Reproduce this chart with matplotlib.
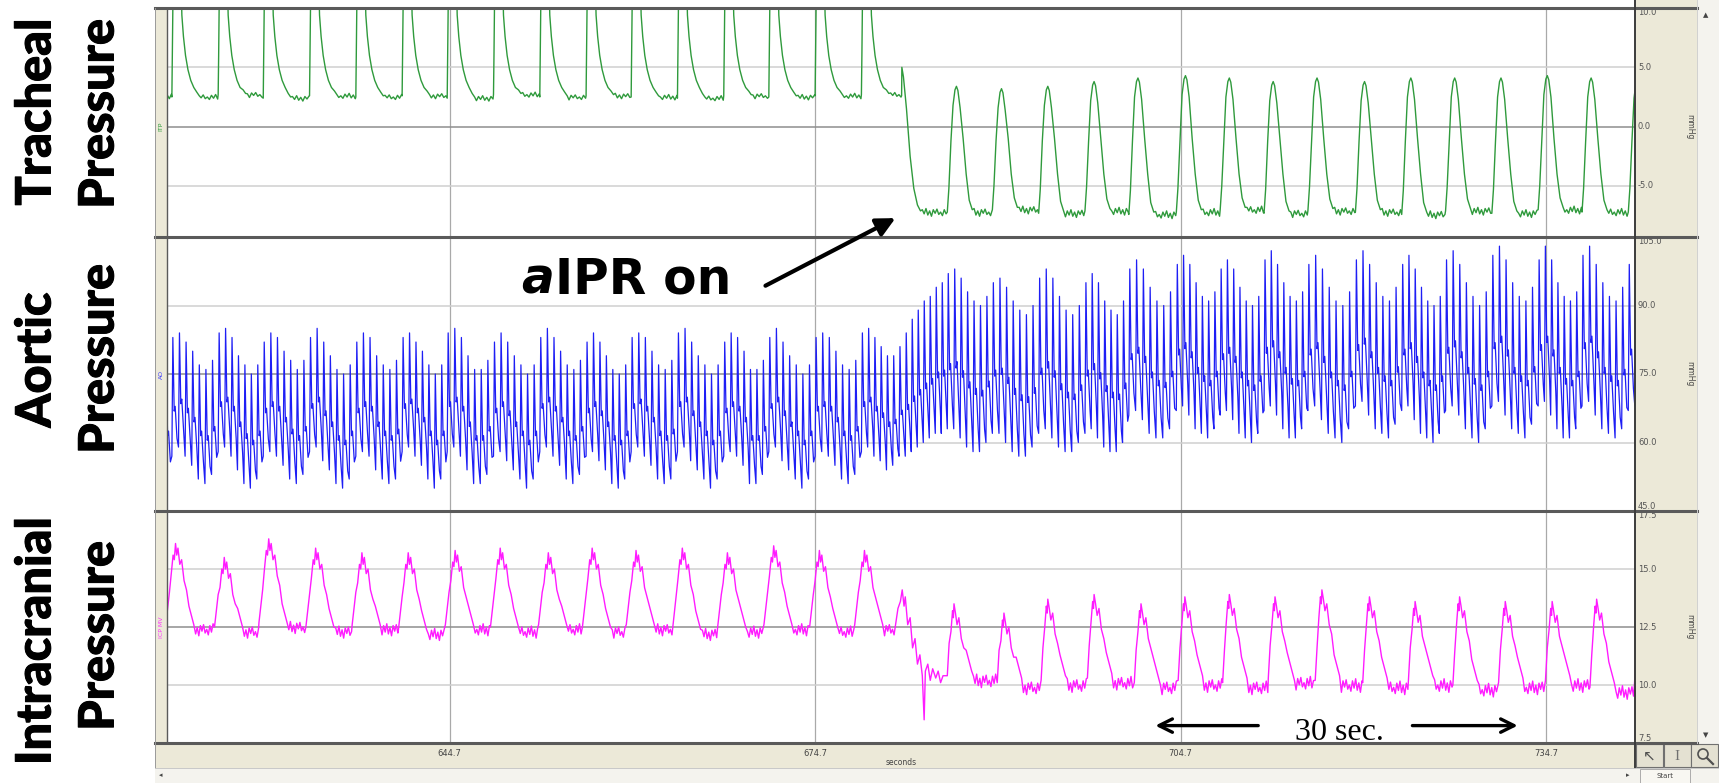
import matplotlib
matplotlib.use("Agg")
import matplotlib.pyplot as plt
import matplotlib.patheffects as pe
from matplotlib.patches import Rectangle, Circle
from matplotlib.lines import Line2D

W, H, DPI = 1719, 783, 100

# ------------------------------------------------------------------ data
x_range = (621.5, 742.0)
x_ticks = [644.7, 674.7, 704.7, 734.7]
x_tick_labels = ["644.7", "674.7", "704.7", "734.7"]

trach_range = (-9.3, 10.0)
trach_ticks = [10.0, 5.0, 0.0, -5.0]
trach_tick_labels = ["10.0", "5.0", "0.0", "-5.0"]

aortic_range = (45.0, 105.0)
aortic_ticks = [105.0, 90.0, 75.0, 60.0, 45.0]
aortic_tick_labels = ["105.0", "90.0", "75.0", "60.0", "45.0"]

icp_range = (7.5, 17.5)
icp_ticks = [17.5, 15.0, 12.5, 10.0, 7.5]
icp_tick_labels = ["17.5", "15.0", "12.5", "10.0", "7.5"]

# tracheal pressure: ventilator breaths before aIPR (peaks run off scale)
trach_pre_onset = [618.1, 621.9, 625.7, 629.4, 633.2, 637.0, 640.8, 644.5, 648.3,
                   652.1, 655.9, 659.6, 663.4, 667.2, 670.9, 674.7, 678.5]
trach_pre_base = [2.6, 2.5, 2.7, 2.4, 2.6, 2.5, 2.6, 2.4, 2.7,
                  2.5, 2.6, 2.5, 2.4, 2.6, 2.5, 2.6, 2.7]
trach_pre_peak = 14.0
# aIPR switched on
trach_trans_t = [681.8, 681.82, 681.95, 682.2, 682.5, 682.8, 683.1, 683.35]
trach_trans_v = [2.6, 5.0, 4.2, 1.5, -2.5, -5.2, -6.6, -7.1]
# breaths with aIPR on
trach_post_peak_t = [686.3, 690.0, 693.8, 697.6, 701.2, 705.1, 708.7, 712.3,
                     715.9, 719.8, 723.6, 727.2, 731.0, 734.8, 738.4, 742.2]
trach_post_peak = [3.4, 3.2, 3.4, 3.8, 4.1, 4.3, 4.1, 3.8,
                   4.1, 3.8, 4.1, 4.1, 4.1, 4.3, 4.1, 4.0]
trach_post_base = [-7.2, -7.0, -7.3, -7.1, -7.4, -7.2, -7.0, -7.3,
                   -7.1, -7.2, -7.4, -7.1, -7.3, -7.0, -7.2, -7.2]

# aortic pressure: 7 beats per respiratory cycle, systolic / diastolic per beat
aortic_breath_onset = [618.1, 621.9, 625.7, 629.4, 633.2, 637.0, 640.8, 644.5, 648.3,
                       652.1, 655.9, 659.6, 663.4, 667.2, 670.9, 674.7, 678.5, 682.1,
                       685.55, 689.25, 693.05, 696.85, 700.45, 704.35, 707.95, 711.55,
                       715.15, 719.05, 722.85, 726.45, 730.25, 734.05, 737.65, 741.45,
                       745.2]
aortic_sys = [
    [81, 83, 82, 79, 77, 76, 77], [83, 84, 82, 80, 77, 76, 78],
    [84, 85, 83, 79, 77, 75, 77], [82, 84, 83, 80, 78, 76, 78],
    [83, 85, 82, 79, 76, 75, 77], [82, 84, 83, 79, 77, 76, 78],
    [83, 84, 82, 80, 77, 75, 77], [84, 85, 83, 79, 76, 76, 78],
    [82, 84, 82, 79, 77, 75, 77], [83, 85, 83, 80, 77, 76, 78],
    [82, 84, 82, 79, 76, 75, 77], [83, 84, 83, 80, 77, 76, 78],
    [84, 85, 82, 79, 77, 75, 77], [82, 84, 83, 80, 76, 76, 78],
    [83, 85, 82, 79, 77, 75, 77], [83, 84, 83, 80, 77, 76, 78],
    [84, 85, 83, 81, 79, 79, 81], [84, 87, 89, 91, 92, 94, 95],
    [97, 98, 96, 93, 91, 90, 92], [95, 96, 94, 91, 89, 88, 90],
    [96, 98, 96, 92, 89, 88, 90], [95, 97, 95, 91, 89, 88, 91],
    [98, 100, 98, 94, 91, 90, 93], [99, 101, 99, 95, 92, 91, 93],
    [98, 100, 98, 94, 91, 90, 92], [100, 102, 99, 95, 92, 91, 93],
    [99, 101, 98, 94, 91, 90, 93], [100, 102, 99, 95, 92, 91, 94],
    [99, 101, 98, 94, 91, 90, 92], [100, 102, 99, 95, 92, 90, 93],
    [101, 103, 100, 95, 92, 91, 94], [100, 103, 100, 95, 92, 91, 93],
    [101, 103, 99, 95, 92, 91, 94], [99, 100, 98, 94, 92, 91, 93],
]
aortic_dia = [
    [56, 58, 57, 54, 52, 51, 52], [57, 59, 57, 55, 52, 51, 53],
    [58, 59, 57, 54, 51, 50, 52], [57, 58, 57, 55, 52, 51, 53],
    [58, 59, 56, 54, 51, 50, 52], [57, 58, 57, 54, 52, 51, 52],
    [58, 59, 57, 55, 52, 50, 52], [58, 59, 57, 54, 51, 51, 53],
    [57, 58, 56, 54, 52, 50, 52], [58, 59, 57, 55, 52, 51, 53],
    [57, 58, 56, 54, 51, 50, 52], [58, 59, 57, 55, 52, 51, 52],
    [58, 59, 56, 54, 52, 50, 52], [57, 58, 57, 55, 51, 51, 53],
    [58, 59, 56, 54, 52, 50, 52], [57, 58, 57, 55, 52, 51, 53],
    [58, 59, 57, 56, 54, 55, 57], [57, 58, 59, 60, 61, 62, 62],
    [63, 63, 61, 59, 58, 58, 60], [62, 62, 60, 58, 57, 57, 59],
    [62, 63, 61, 59, 58, 58, 60], [62, 63, 61, 59, 58, 58, 60],
    [66, 67, 65, 62, 61, 61, 63], [67, 68, 66, 63, 62, 61, 63],
    [66, 67, 65, 62, 61, 60, 62], [67, 68, 66, 63, 61, 61, 63],
    [67, 68, 65, 62, 61, 60, 63], [68, 69, 66, 63, 62, 61, 64],
    [67, 68, 65, 62, 61, 60, 62], [67, 68, 66, 63, 61, 60, 63],
    [68, 69, 66, 63, 62, 61, 64], [68, 69, 66, 63, 61, 61, 63],
    [68, 69, 66, 63, 62, 61, 63], [67, 68, 66, 63, 62, 61, 63],
]

# intracranial pressure
icp_pre_peak_t = [622.2, 626.2, 629.85, 633.7, 637.5, 641.3, 645.15, 648.85,
                  652.8, 656.4, 660.0, 663.8, 667.5, 671.3, 675.05, 678.75]
icp_pre_peak = [16.1, 15.5, 16.3, 15.9, 15.7, 15.7, 15.8, 15.9,
                15.7, 15.9, 15.8, 15.9, 15.7, 16.0, 15.8, 15.8]
icp_pre_base = [12.4, 12.3, 12.5, 12.3, 12.4, 12.2, 12.4, 12.3,
                12.4, 12.3, 12.4, 12.2, 12.3, 12.4, 12.3, 12.4]
icp_trans_t = [681.3, 681.5, 681.7, 681.85, 682.0, 682.1, 682.3, 682.5, 682.7, 682.9,
               683.1, 683.3, 683.5, 683.65, 683.75, 683.95, 684.15, 684.35, 684.6,
               684.8, 685.0, 685.2]
icp_trans_v = [12.6, 13.3, 13.6, 14.1, 13.4, 13.8, 12.6, 12.9, 11.6, 12.0,
               10.9, 11.3, 10.4, 8.5, 10.6, 10.9, 10.2, 10.7, 10.3,
               10.6, 10.1, 10.4]
icp_post_peak_t = [686.1, 690.2, 693.8, 697.6, 701.45, 705.05, 708.7, 712.45,
                   716.3, 720.2, 723.95, 727.6, 731.35, 735.2, 738.85, 742.5]
icp_post_peak = [13.5, 13.1, 13.7, 13.9, 13.5, 13.8, 13.9, 13.8,
                 14.1, 13.8, 13.6, 13.8, 13.6, 13.6, 13.7, 13.6]
icp_post_base = [10.2, 9.9, 10.0, 10.1, 9.9, 10.0, 9.9, 10.1,
                 10.0, 9.9, 10.0, 9.8, 9.9, 10.0, 9.7, 9.8]

ripple = [0.0, -0.3, 0.2, -0.15, 0.3, -0.25, 0.1, -0.35, 0.2, -0.1, 0.25, -0.2]

# ------------------------------------------------------------ build traces
def ripple_fill(T, V, t0, t1, base, amp, step, cnt):
    tt = t0
    while tt < t1:
        T.append(tt)
        V.append(base + amp * ripple[cnt[0] % len(ripple)])
        cnt[0] += 1
        tt += step


def tracheal_trace():
    T, V, c = [], [], [0]
    n = len(trach_pre_onset)
    for k in range(n):
        to, b = trach_pre_onset[k], trach_pre_base[k]
        nxt = trach_pre_onset[k + 1] if k + 1 < n else trach_trans_t[0]
        shape = [(0.0, b), (0.04, 6.0), (0.12, trach_pre_peak), (0.72, trach_pre_peak),
                 (0.82, 9.4), (0.95, 7.6), (1.12, 6.0), (1.32, 4.8), (1.55, 3.9),
                 (1.8, 3.3), (2.05, b + 0.4), (2.25, b + 0.1)]
        for dt, val in shape:
            T.append(to + dt); V.append(val)
        ripple_fill(T, V, to + 2.4, nxt - 0.02, b, 0.7, 0.17, c)
    T += trach_trans_t; V += trach_trans_v
    ripple_fill(T, V, trach_trans_t[-1] + 0.15, trach_post_peak_t[0] - 0.78,
                trach_post_base[0], 1.0, 0.15, c)
    m = len(trach_post_peak_t)
    for k in range(m):
        tp, pk, b = trach_post_peak_t[k], trach_post_peak[k], trach_post_base[k]
        shape = [(-0.75, b), (-0.62, b + 2.0), (-0.45, -1.2), (-0.28, pk - 1.6),
                 (-0.12, pk - 0.3), (0.0, pk), (0.12, pk - 0.35), (0.3, pk - 1.8),
                 (0.55, -1.0), (0.8, -4.0), (1.05, b + 1.0), (1.3, b + 0.2)]
        for dt, val in shape:
            T.append(tp + dt); V.append(val)
        if k + 1 < m:
            ripple_fill(T, V, tp + 1.45, trach_post_peak_t[k + 1] - 0.78, b, 1.0, 0.15, c)
    return T, V


def aortic_trace():
    T, V = [], []
    for k in range(len(aortic_sys)):
        t0, t1 = aortic_breath_onset[k], aortic_breath_onset[k + 1]
        n = len(aortic_sys[k])
        dt = (t1 - t0) / n
        for j in range(n):
            tb = t0 + j * dt
            s, d = aortic_sys[k][j], aortic_dia[k][j]
            T += [tb, tb + 0.08, tb + 0.19, tb + 0.27, tb + 0.42]
            V += [d, s, d + 0.38 * (s - d), d + 0.42 * (s - d), d + 0.15 * (s - d)]
    return T, V


def icp_trace():
    T, V, c = [], [], [5]
    n = len(icp_pre_peak_t)
    for k in range(n):
        tp, pk, b = icp_pre_peak_t[k], icp_pre_peak[k], icp_pre_base[k]
        shape = [(-0.8, b + 0.2), (-0.65, b + 0.9), (-0.5, b + 1.6), (-0.35, pk - 1.3),
                 (-0.2, pk - 0.5), (-0.1, pk - 0.7), (0.0, pk), (0.1, pk - 0.5),
                 (0.2, pk - 0.2), (0.35, pk - 0.9), (0.5, pk - 0.7), (0.7, pk - 1.6),
                 (0.9, pk - 2.0), (1.1, b + 1.0), (1.3, b + 0.6), (1.5, b + 0.2)]
        for dt, val in shape:
            T.append(tp + dt); V.append(val)
        nxt = icp_pre_peak_t[k + 1] - 0.82 if k + 1 < n else icp_trans_t[0] - 0.05
        ripple_fill(T, V, tp + 1.65, nxt, b, 0.8, 0.13, c)
    T += icp_trans_t; V += icp_trans_v
    m = len(icp_post_peak_t)
    for k in range(m):
        tp, pk, b = icp_post_peak_t[k], icp_post_peak[k], icp_post_base[k]
        shape = [(-0.55, b + 0.2), (-0.4, b + 1.6), (-0.25, pk - 1.2), (-0.12, pk - 0.3),
                 (-0.05, pk - 0.6), (0.0, pk), (0.12, pk - 0.4), (0.25, pk - 0.9),
                 (0.4, pk - 0.6), (0.6, pk - 1.5), (0.8, pk - 1.9), (1.0, b + 1.3),
                 (1.2, b + 0.9), (1.45, b + 0.4)]
        for dt, val in shape:
            T.append(tp + dt); V.append(val)
        if k + 1 < m:
            ripple_fill(T, V, tp + 1.6, icp_post_peak_t[k + 1] - 0.57, b, 0.9, 0.13, c)
    return T, V

# ---------------------------------------------------------------- figure
BEIGE = "#ECE9D8"
LIGHT = "#F4F3EE"
fig = plt.figure(figsize=(W / DPI, H / DPI), dpi=DPI)
fig.patch.set_facecolor("white")

def px_rect(l, t, r, b):
    return [l / W, 1 - b / H, (r - l) / W, (b - t) / H]

bg = fig.add_axes([0, 0, 1, 1], zorder=0)
bg.set_xlim(0, W); bg.set_ylim(H, 0); bg.axis("off")
for (l, t, r, b, col) in [(155, 8, 167, 768, BEIGE), (155, 743, 1635, 768, BEIGE),
                          (155, 768, 1719, 783, LIGHT), (1635, 0, 1697, 768, BEIGE),
                          (1697, 0, 1719, 783, LIGHT)]:
    bg.add_patch(Rectangle((l, t), r - l, b - t, facecolor=col, edgecolor="none"))

PL, PR = 167, 1635
panel_px = [(8, 237), (237, 511), (511, 743)]
axes = []
for (t, b) in panel_px:
    ax = fig.add_axes(px_rect(PL, t, PR, b), zorder=2)
    ax.set_facecolor("white")
    for s in ax.spines.values():
        s.set_visible(False)
    ax.set_xlim(*x_range)
    ax.tick_params(left=False, labelleft=False, bottom=False, labelbottom=False)
    for xt in x_ticks:
        ax.axvline(xt, color="#a9a9a9", lw=0.9, zorder=0)
    axes.append(ax)
ax1, ax2, ax3 = axes

specs = [
    (ax1, trach_range, trach_ticks, trach_tick_labels, 0.0, "ITP", "#2e9b3c"),
    (ax2, aortic_range, aortic_ticks, aortic_tick_labels, 75.0, "AO", "#3a3aff"),
    (ax3, icp_range, icp_ticks, icp_tick_labels, 12.5, "ICP MV", "#ff33ff"),
]
for ax, rng, ticks, labels, mid, chan, ccol in specs:
    ax.set_ylim(*rng)
    tr = ax.get_yaxis_transform()
    for val, lab in zip(ticks, labels):
        if rng[0] < val < rng[1]:
            ax.axhline(val, color="#8e8e8e" if val == mid else "#cfcfcf",
                       lw=1.1, zorder=0)
        if val >= rng[1]:
            va, yy = "top", rng[1]
        elif val <= rng[0]:
            va, yy = "bottom", rng[0]
        else:
            va, yy = "center", val
        ax.text(1.002, yy, lab, transform=tr, fontsize=6, color="#555555",
                ha="left", va=va, clip_on=False)
    ax.text(1.0 + 55 / 1468, mid, "mmHg", transform=tr, rotation=270,
            fontsize=5.5, color="#444444", ha="center", va="center", clip_on=False)
    ax.text(-6 / 1468, mid, chan, transform=tr, rotation=90, fontsize=4.5,
            color=ccol, ha="center", va="center", clip_on=False)

tT, tV = tracheal_trace()
ax1.plot(tT, tV, color="#2f9a3c", lw=1.0, zorder=3)
aT, aV = aortic_trace()
ax2.plot(aT, aV, color="#1e1ef5", lw=0.9, zorder=3)
iT, iV = icp_trace()
ax3.plot(iT, iV, color="#ff1cff", lw=1.0, zorder=3)

# x axis labels
ax3.set_xticks(x_ticks)
ax3.set_xticklabels(x_tick_labels)
ax3.tick_params(axis="x", bottom=False, labelbottom=True, length=0, pad=4,
                labelsize=6, labelcolor="#444444")
ax3.set_xlabel("seconds", fontsize=5.5, color="#444444", labelpad=0)

# 30 sec. annotation
ax3.annotate("", xy=(702.4, 0.075), xytext=(711.3, 0.075), xycoords=("data", "axes fraction"),
             arrowprops=dict(arrowstyle="->", lw=2.4, color="black", mutation_scale=24),
             annotation_clip=False)
ax3.annotate("", xy=(732.6, 0.075), xytext=(723.5, 0.075), xycoords=("data", "axes fraction"),
             arrowprops=dict(arrowstyle="->", lw=2.4, color="black", mutation_scale=24),
             annotation_clip=False)
ax3.text(717.7, 0.015, "30 sec.", transform=ax3.get_xaxis_transform(),
         family="Liberation Serif", fontsize=23, ha="center", va="baseline",
         color="black", zorder=6)

# overlay chrome
ov = fig.add_axes([0, 0, 1, 1], zorder=5)
ov.set_xlim(0, W); ov.set_ylim(H, 0); ov.axis("off"); ov.patch.set_alpha(0)
for y in [8, 237, 511, 743]:
    ov.add_line(Line2D([155, 1697], [y, y], color="#5a5a5a", lw=2.2))
ov.add_line(Line2D([1635, 1635], [0, 768], color="#3c3c3c", lw=1.4))
ov.add_line(Line2D([167, 167], [8, 743], color="#5a5a5a", lw=1.0))
ov.add_line(Line2D([155, 155], [8, 768], color="#9a9a9a", lw=0.7))
ov.add_line(Line2D([155, 1719], [768, 768], color="#c8c8c8", lw=0.7))
ov.add_line(Line2D([1697, 1697], [0, 743], color="#d0d0d0", lw=0.7))
ov.text(1706, 15, "\u25B2", fontsize=5, color="#444444", ha="center", va="center")
ov.text(1706, 735, "\u25BC", fontsize=5, color="#444444", ha="center", va="center")
ov.text(161, 775, "\u25C2", fontsize=5, color="#444444", ha="center", va="center")
ov.text(1628, 775, "\u25B8", fontsize=5, color="#444444", ha="center", va="center")
for l in [1636, 1664, 1691]:
    ov.add_patch(Rectangle((l, 744), 27, 23, facecolor="#E4E1D2", edgecolor="#707070", lw=0.8))
ov.text(1649, 756, "\u2196", fontsize=11, color="#505050", ha="center", va="center")
ov.text(1677, 756, "I", fontsize=11, family="Liberation Serif", color="#707070",
        ha="center", va="center")
ov.add_patch(Circle((1703, 754), 5, facecolor="none", edgecolor="#505050", lw=1.2))
ov.add_line(Line2D([1707, 1713], [758, 764], color="#505050", lw=1.6))
ov.add_patch(Rectangle((1640, 769), 50, 14, facecolor="#F8F7F2", edgecolor="#a0a0a0", lw=0.6))
ov.text(1665, 776, "Start", fontsize=5, color="#444444", ha="center", va="center")

# big left labels
thick = [pe.withStroke(linewidth=0.7, foreground="black")]
LBL = dict(family="Lato", fontweight="black", fontsize=35, rotation=90,
           ha="center", va="center", color="black", path_effects=thick)
ov.text(36, 112, "Tracheal", **LBL)
ov.text(99, 114, "Pressure", **LBL)
ov.text(36, 360, "Aortic", **LBL)
ov.text(99, 359, "Pressure", **LBL)
ov.text(36, 641, "Intracranial", **LBL)
ov.text(99, 636, "Pressure", **LBL)

# aIPR on
t_a = ov.text(521, 294, "a", fontsize=35, fontweight="bold", fontstyle="italic",
              ha="left", va="baseline", color="black")
fig.canvas.draw()
bb = t_a.get_window_extent()
x_next = ov.transData.inverted().transform((bb.x1, bb.y0))[0]
ov.text(x_next + 1, 294, "IPR on", fontsize=35, fontweight="bold",
        ha="left", va="baseline", color="black")
ov.annotate("", xy=(681.5, -7.6), xycoords=ax1.transData, xytext=(763, 287),
            textcoords=ov.transData,
            arrowprops=dict(arrowstyle="-|>", lw=3.0, color="black", mutation_scale=28),
            annotation_clip=False)

fig.savefig("out.png", dpi=DPI)
